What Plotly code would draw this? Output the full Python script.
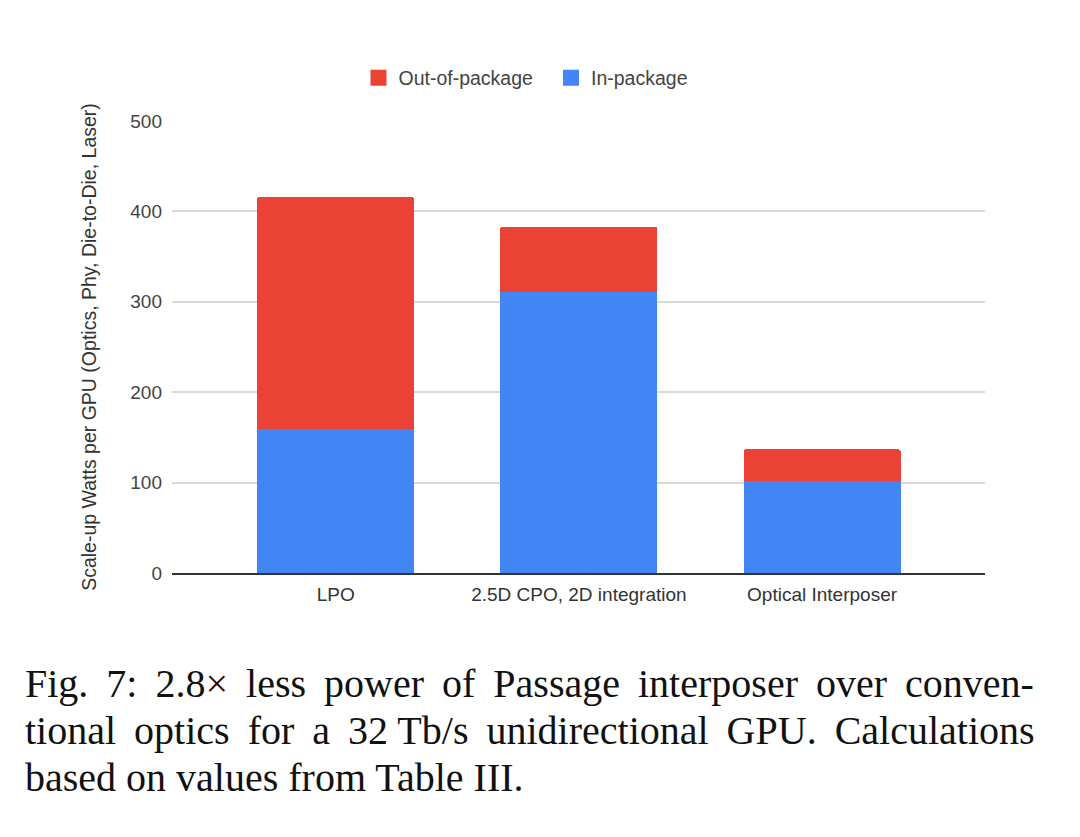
import plotly.graph_objects as go

categories = ["LPO", "2.5D CPO, 2D integration", "Optical Interposer"]
in_package = [159, 311, 102]
out_of_package = [257, 72, 35]
y_ticks = [0, 100, 200, 300, 400, 500]

T_ = " \u2009"  # widened gap used to justify caption lines
caption_lines = [
    T_.join(["Fig.", "7:", "2.8\u00d7", "less", "power", "of", "Passage",
             "interposer", "over", "conven-"]),
    "tional" + T_ + "optics" + T_ + "for" + T_ + "a" + T_ + "32 Tb/s" + T_
    + "unidirectional" + T_ + "GPU." + T_ + "Calculations",
    "based on values from Table III.",
]

RED = "#EA4335"
BLUE = "#4285F4"
FONT = "Liberation Sans, Arial, sans-serif"

fig = go.Figure()
fig.add_trace(go.Bar(x=categories, y=in_package, name="In-package",
                     marker=dict(color=BLUE, line=dict(width=0)), width=0.646,
                     showlegend=False))
fig.add_trace(go.Bar(x=categories, y=out_of_package, name="Out-of-package",
                     marker=dict(color=RED, line=dict(width=0)), width=0.646,
                     showlegend=False))
# legend entries (square swatches)
fig.add_trace(go.Scatter(x=[None], y=[None], mode="markers", name="Out-of-package",
                         marker=dict(symbol="square", size=17, color=RED)))
fig.add_trace(go.Scatter(x=[None], y=[None], mode="markers", name="In-package",
                         marker=dict(symbol="square", size=17, color=BLUE)))

L, R, T, B = 172, 95, 121, 264
fig.update_layout(
    width=1080, height=837,
    margin=dict(l=L, r=R, t=T, b=B),
    barmode="stack",
    barcornerradius=3,
    paper_bgcolor="white", plot_bgcolor="white",
    font=dict(family=FONT, color="#444444", size=18),
    showlegend=True,
    legend=dict(orientation="h", traceorder="normal",
                x=(358.5 - L) / (1080 - L - R), xanchor="left",
                y=1.095, yanchor="middle",
                font=dict(size=19.5, color="#444444"),
                itemwidth=30, entrywidth=147.5, entrywidthmode="pixels",
                bgcolor="rgba(0,0,0,0)"),
    xaxis=dict(range=[-0.673, 2.67], showgrid=False, showline=True,
               linecolor="#333333", linewidth=1.5, ticks="",
               tickfont=dict(size=19, color="#333333"), ticklabelstandoff=3,
               fixedrange=True),
    yaxis=dict(range=[0, 500], tickvals=y_ticks, showgrid=True,
               gridcolor="#D9D9D9", gridwidth=1.5, zeroline=False,
               showline=False, ticks="", ticklabelstandoff=9,
               tickfont=dict(size=19, color="#444444"),
               title=dict(text="Scale-up Watts per GPU (Optics, Phy, Die-to-Die, Laser)",
                          font=dict(size=19.5, color="#333333"), standoff=28)),
)

for i, line in enumerate(caption_lines):
    fig.add_annotation(text=line, xref="paper", yref="paper",
                       x=(23 - L) / (1080 - L - R),
                       y=(837 - B - (683 + 47 * i)) / (837 - T - B),
                       xanchor="left", yanchor="middle", showarrow=False,
                       font=dict(family="Liberation Serif, Times New Roman, serif",
                                 size=40, color="#111111"))

fig.write_html("out.html")
